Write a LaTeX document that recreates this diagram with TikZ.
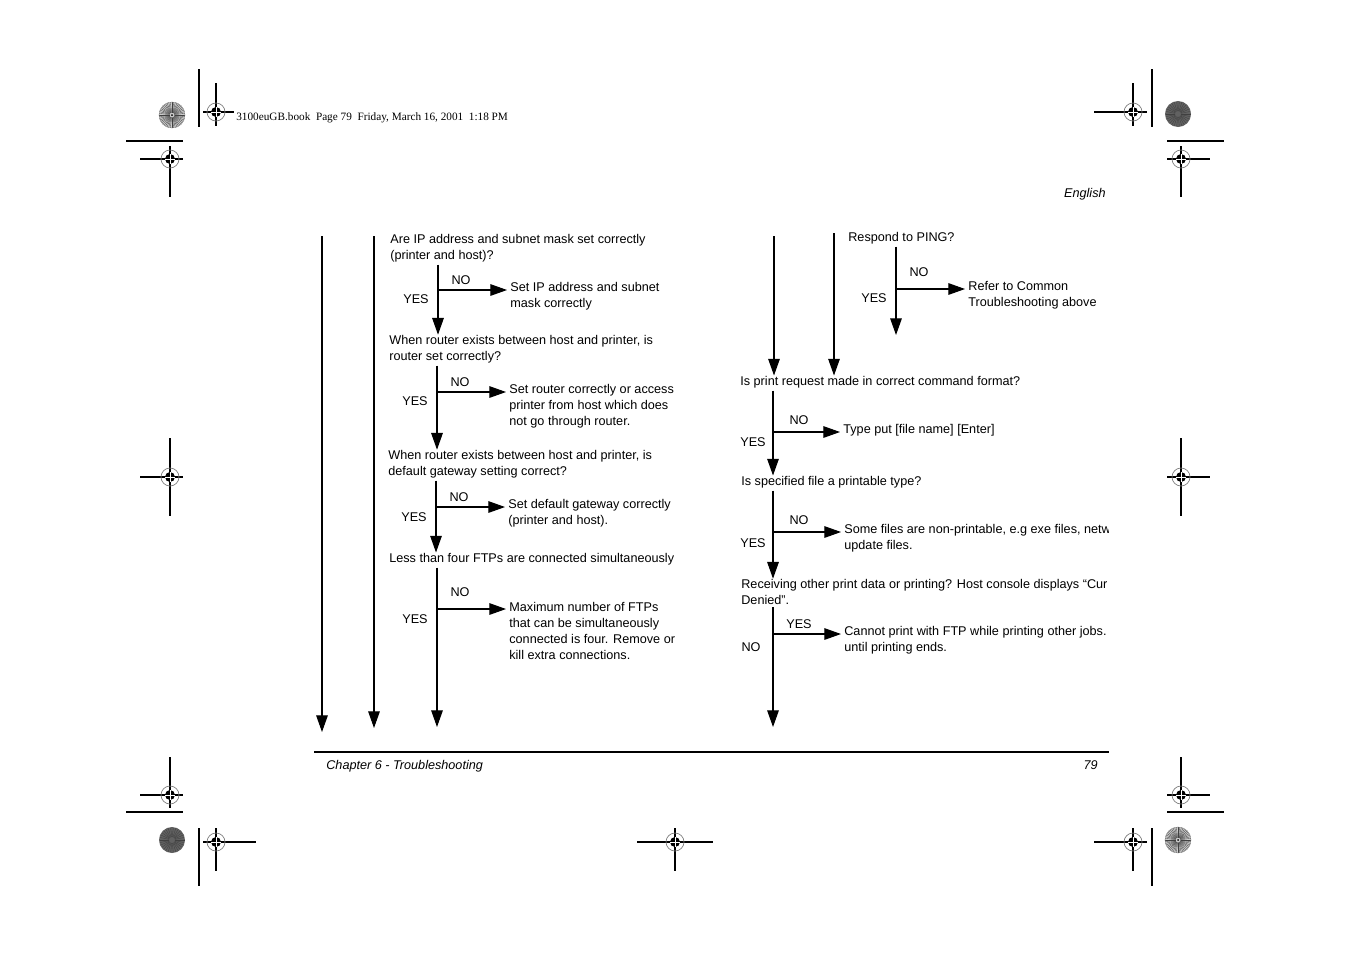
\documentclass[tikz,border=0pt]{standalone}
\usepackage{fontspec}
\setmainfont{Liberation Serif}
\setsansfont{Liberation Sans}
\usetikzlibrary{arrows.meta}

\tikzset{
  txt/.style={anchor=base west, inner sep=0pt, align=left, font=\sffamily\fontsize{7.2}{9}\selectfont},
  lbl/.style={inner sep=0pt, font=\sffamily\fontsize{7.2}{9}\selectfont},
  flow/.style={line width=0.6pt, shorten <=1.5pt, -{Triangle[length=9.5pt,width=6.6pt]}},
  branch/.style={flow, shorten <=0pt, shorten >=1.7pt},
  trim/.style={line width=0.6pt},
  regmark/.pic={
    \draw[gray, line width=0.4pt] (0,0) circle (0.18cm);
    \fill[black] (0,0) circle (0.1cm);
    \draw[white, line width=0.5pt] (-0.1cm,0) -- (0.1cm,0) (0,-0.1cm) -- (0,0.1cm);
  },
  lightburst/.pic={
    \fill[gray!40] (0,0) circle (0.26cm);
    \foreach \a in {0,7.5,...,352.5}
      \draw[black!75, line width=0.18pt] (\a:0.05cm) -- (\a:0.26cm);
    \draw[gray, line width=0.2pt] (0,0) circle (0.26cm);
    \fill[black] (0,0) circle (0.02cm);
  },
  darkburst/.pic={
    \fill[black!62] (0,0) circle (0.26cm);
    \foreach \a in {0,12,...,348}
      \draw[black!75, line width=0.2pt] (\a:0.06cm) -- (\a:0.25cm);
  },
}

\begin{document}
\begin{tikzpicture}[x=0.02cm, y=-0.02cm]
  \useasboundingbox (0,0) rectangle (1351,954);

  % crop marks, top
  \draw[trim] (199,69) -- (199,127);
  \draw[trim] (216,83) -- (216,126);
  \draw[trim] (203,112) -- (234,112);
  \draw[trim] (126,141) -- (183,141);
  \draw[trim] (170,146) -- (170,197);
  \draw[trim] (140,159) -- (183,159);
  \draw[trim] (1152,69) -- (1152,127);
  \draw[trim] (1133,83) -- (1133,126);
  \draw[trim] (1094,112) -- (1147,112);
  \draw[trim] (1167,141) -- (1224,141);
  \draw[trim] (1181,146) -- (1181,197);
  \draw[trim] (1167,159) -- (1210,159);
  % crop marks, middle
  \draw[trim] (170,438) -- (170,516);
  \draw[trim] (140,477) -- (183,477);
  \draw[trim] (1181,438) -- (1181,516);
  \draw[trim] (1167,477) -- (1210,477);
  % crop marks, bottom
  \draw[trim] (170,757) -- (170,808);
  \draw[trim] (140,795) -- (183,795);
  \draw[trim] (126,812) -- (183,812);
  \draw[trim] (199,828) -- (199,886);
  \draw[trim] (216,828) -- (216,871);
  \draw[trim] (203,842) -- (256,842);
  \draw[trim] (675,828) -- (675,871);
  \draw[trim] (637,842) -- (713,842);
  \draw[trim] (1181,757) -- (1181,808);
  \draw[trim] (1167,795) -- (1210,795);
  \draw[trim] (1167,812) -- (1224,812);
  \draw[trim] (1152,828) -- (1152,886);
  \draw[trim] (1133,828) -- (1133,871);
  \draw[trim] (1094,842) -- (1147,842);

  \pic at (216,112) {regmark};
  \pic at (170,159) {regmark};
  \pic at (170,477) {regmark};
  \pic at (170,795) {regmark};
  \pic at (216,842) {regmark};
  \pic at (675,842) {regmark};
  \pic at (1133,112) {regmark};
  \pic at (1181,159) {regmark};
  \pic at (1181,477) {regmark};
  \pic at (1181,795) {regmark};
  \pic at (1133,842) {regmark};
  \pic at (172,115) {lightburst};
  \pic at (1178,114) {darkburst};
  \pic at (172,840) {darkburst};
  \pic at (1178,840) {lightburst};

  % page header and footer
  \node[anchor=base west, inner sep=0pt, font=\rmfamily\fontsize{6.4}{8}\selectfont] (stamp) at (236,120)
    {3100euGB.book~ Page 79~ Friday, March 16, 2001~ 1:18 PM};
  \node[anchor=base east, inner sep=0pt, font=\sffamily\itshape\fontsize{7.2}{9}\selectfont] (lang) at (1106,197) {English};
  \coordinate (rule-l) at (314,752);
  \coordinate (rule-r) at (1109,752);
  \draw[trim] (rule-l) -- (rule-r);
  \node[anchor=base west, inner sep=0pt, font=\sffamily\itshape\fontsize{7.2}{9}\selectfont] (chap) at (326,769) {Chapter 6 - Troubleshooting};
  \node[anchor=base east, inner sep=0pt, font=\sffamily\itshape\fontsize{7.2}{9}\selectfont] (folio) at (1098,769) {79};

  % left column (nodes sit on the baseline of their last line)
  \coordinate (la-top) at (322,236);
  \coordinate (la-end) at (322,732);
  \coordinate (lb-top) at (374,236);
  \coordinate (lb-end) at (374,728);
  \draw[flow, shorten <=0pt] (la-top) -- (la-end);
  \draw[flow, shorten <=0pt] (lb-top) -- (lb-end);

  \node[txt] (ipset) at (390,259) {Are IP address and subnet mask set correctly\\(printer and host)?};
  \node[txt] (ipfix) at (510,307) {Set IP address and subnet\\mask correctly};
  \node[txt] (router) at (389,360) {When router exists between host and printer, is\\router set correctly?};
  \node[txt] (routerfix) at (509,425) {Set router correctly or access\\printer from host which does\\not go through router.};
  \node[txt] (gateway) at (388,475) {When router exists between host and printer, is\\default gateway setting correct?};
  \node[txt] (gatewayfix) at (508,524) {Set default gateway correctly\\(printer and host).};
  \node[txt] (ftps) at (389,562) {Less than four FTPs are connected simultaneously};
  \node[txt] (ftpsfix) at (509,659) {Maximum number of FTPs\\that can be simultaneously\\connected is four. Remove or\\kill extra connections.};

  \coordinate (j-ip) at (438,290);
  \coordinate (j-router) at (437,392);
  \coordinate (j-gateway) at (436,507);
  \coordinate (j-ftps) at (437,609);
  \coordinate (ftps-end) at (437,727);

  \draw[flow] (j-ip |- ipset.south) -- (j-ip |- router.north);
  \draw[branch] (j-ip) -- (j-ip -| ipfix.west);
  \draw[flow] (j-router |- router.south) -- (j-router |- gateway.north);
  \draw[branch] (j-router) -- (j-router -| routerfix.west);
  \draw[flow] (j-gateway |- gateway.south) -- (j-gateway |- ftps.north);
  \draw[branch] (j-gateway) -- (j-gateway -| gatewayfix.west);
  \draw[flow] (j-ftps |- ftps.south) -- (ftps-end);
  \draw[branch] (j-ftps) -- (j-ftps -| ftpsfix.west);

  \node[lbl] (no-ip) at (461,280) {NO};
  \node[lbl] (yes-ip) at (416,299) {YES};
  \node[lbl] (no-router) at (460,382) {NO};
  \node[lbl] (yes-router) at (415,401) {YES};
  \node[lbl] (no-gateway) at (459,497) {NO};
  \node[lbl] (yes-gateway) at (414,517) {YES};
  \node[lbl] (no-ftps) at (460,592) {NO};
  \node[lbl] (yes-ftps) at (415,619) {YES};

  % right column
  \node[txt] (ping) at (848,241) {Respond to PING?};
  \node[txt] (pingfix) at (968,306) {Refer to Common\\Troubleshooting above};
  \node[txt] (format) at (740,385) {Is print request made in correct command format?};
  \node[txt] (formatfix) at (843,433) {Type put [file name] [Enter]};
  \node[txt] (ftype) at (741,485) {Is specified file a printable type?};
  \begin{scope}
    \clip (700,0) rectangle (1108.5,954);
    \node[txt] (ftypefix) at (844,549) {Some files are non-printable, e.g exe files, netw\\update files.};
    \node[txt] (busy) at (741,604) {Receiving other print data or printing? Host console displays “Cur\\Denied”.};
    \node[txt] (busyfix) at (844,651) {Cannot print with FTP while printing other jobs. W\\until printing ends.};
  \end{scope}

  \coordinate (ra-top) at (774,236);
  \coordinate (rb-top) at (834,233);
  \draw[flow, shorten <=0pt] (ra-top) -- (ra-top |- format.north);
  \draw[flow, shorten <=0pt] (rb-top) -- (rb-top |- format.north);

  \coordinate (j-ping) at (896,289);
  \coordinate (ping-end) at (896,335);
  \coordinate (j-format) at (773,432);
  \coordinate (j-ftype) at (773,532);
  \coordinate (j-busy) at (773,634);
  \coordinate (busy-end) at (773,727);

  \draw[flow] (j-ping |- ping.south) -- (ping-end);
  \draw[branch] (j-ping) -- (j-ping -| pingfix.west);
  \draw[flow] (j-format |- format.south) -- (j-format |- ftype.north);
  \draw[branch] (j-format) -- (j-format -| formatfix.west);
  \draw[flow] (j-ftype |- ftype.south) -- (j-ftype |- busy.north);
  \draw[branch] (j-ftype) -- (j-ftype -| ftypefix.west);
  \draw[flow] (j-busy |- busy.south) -- (busy-end);
  \draw[branch] (j-busy) -- (j-busy -| busyfix.west);

  \node[lbl] (no-ping) at (919,272) {NO};
  \node[lbl] (yes-ping) at (874,298) {YES};
  \node[lbl] (no-format) at (799,420) {NO};
  \node[lbl] (yes-format) at (753,442) {YES};
  \node[lbl] (no-ftype) at (799,520) {NO};
  \node[lbl] (yes-ftype) at (753,543) {YES};
  \node[lbl] (yes-busy) at (799,624) {YES};
  \node[lbl] (no-busy) at (751,647) {NO};
\end{tikzpicture}
\end{document}
